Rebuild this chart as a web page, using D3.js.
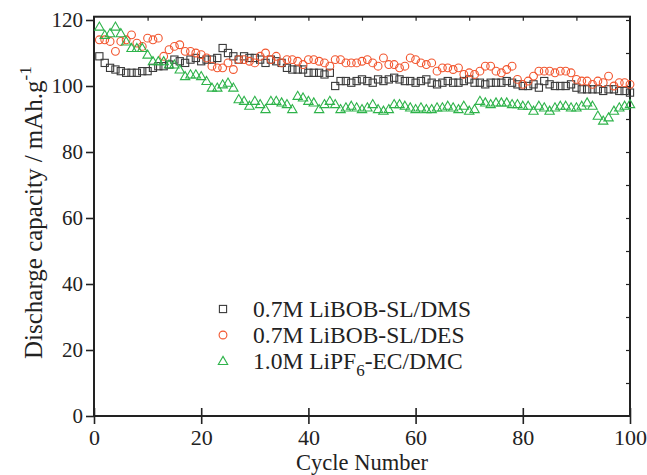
<!DOCTYPE html>
<html>
<head>
<meta charset="utf-8">
<script src="https://cdn.jsdelivr.net/npm/d3@7/dist/d3.min.js"></script>
<style>
  html, body { margin: 0; padding: 0; background: #fff; }
  svg { display: block; }
  text { font-family: "Liberation Serif", "Times New Roman", serif; fill: #222; }
</style>
</head>
<body>
<svg id="chart" width="647" height="475"></svg>
<script>
// ---- data ----
const cycles = d3.range(1, 101);
const dms = [109,107,105.5,105,104.5,104,104,104,104.5,104.5,
  105.5,106,106,106.5,108,107.5,107,108,108.5,107.5,
  108,108,108.5,111.5,110,109,108,109,108.5,108.5,
  108,107,108,107.5,107,105.5,105,105,105,104,
  104,104,103.5,104,100,101.5,101.5,101,101.5,102,
  101.5,101,102,101.5,102,102.5,102,101.5,101.5,101,
  101.5,102,101,100.5,101,101.5,101,101,101.5,102,
  101,101,100.5,101,101,101,101.5,101,100.5,100,
  100,100.5,99.5,101.5,100.5,100,100,100,100.5,99.5,
  99,99,99,99,98.5,99,99,98.5,98.5,98];
const des = [114,114,113.5,110.5,113.5,114,115.5,113,112,114.5,
  114,114.5,109,111,112,112.5,110.5,110.5,110,109.5,
  108.5,106,105.5,105.5,107,105,108,108,107.5,107,
  109,110,108,109,107,108,108,107.5,106.5,108,
  108,107.5,107,106,108,108,107,107,107,107.5,
  108,107,106,108.5,106.5,106.5,105.5,106,108.5,108,
  107,106.5,107,104.5,105.5,105.5,105,105.5,103.5,104,
  103.5,104.5,106,106,104.5,104,105,106,102,100.5,
  101.5,103,104.5,104.5,104.5,104,104.5,104.5,104,102,
  101.5,101.5,100.5,101.5,101,103,100,101,101,100.5];
const ecdmc = [118,115.5,116,118,116,113.5,111.5,111.5,111.5,109.5,
  107.5,107.5,107.5,106.5,106.5,105,103,103.5,103.5,103,
  101.5,99.5,99.5,100.5,101,99.5,96,95.5,94,95.5,
  94.5,93,95.5,95.5,95,94.5,93,97,96.5,95.5,
  95,93,94.5,95.5,94.5,93,93.5,94,93.5,93,
  93.5,94.5,93,92.5,93,94.5,94.5,94,93.5,93,
  93.5,93,93,93.5,93.5,94,93.5,93,94,92.5,
  93,95.5,95,94.5,95,95,95,94.5,94.5,94,
  94,92.5,94,93.5,92.5,93.5,94,94,93.5,93.5,
  94,95,94,91,89.5,90.5,92.5,93.5,94,94.5];
const xTicks = [0,20,40,60,80,100];
const yTicks = [0,20,40,60,80,100,120];
const legendLabels = ["0.7M LiBOB-SL/DMS","0.7M LiBOB-SL/DES","1.0M LiPF"];

// ---- layout ----
const svg = d3.select("#chart");
const L = 94, R = 630, B = 416, T = 16.7;
const x = d3.scaleLinear().domain([0,100]).range([L,R]);
const y = d3.scaleLinear().domain([0,121]).range([B,T]);

svg.append("rect").attr("width",647).attr("height",475).attr("fill","#fff");

// frame
svg.append("rect").attr("x",L).attr("y",T).attr("width",R-L).attr("height",B-T)
  .attr("fill","none").attr("stroke","#222").attr("stroke-width",2);

// bottom axis
const xAxis = svg.append("g").attr("transform",`translate(0,${B})`)
  .call(d3.axisBottom(x).tickValues(xTicks).tickSize(8).tickPadding(5).tickFormat(d3.format("d")));
xAxis.select(".domain").remove();
xAxis.selectAll("line").attr("stroke","#222").attr("stroke-width",1.6).attr("y1",-8);
xAxis.selectAll("text").attr("font-size",22).style("font-family","Liberation Serif, serif").attr("fill","#222");

// left axis
const yAxis = svg.append("g").attr("transform",`translate(${L},0)`)
  .call(d3.axisLeft(y).tickValues(yTicks).tickSize(8).tickPadding(3).tickFormat(d3.format("d")));
yAxis.select(".domain").remove();
yAxis.selectAll("line").attr("stroke","#222").attr("stroke-width",1.6);
yAxis.selectAll("text").attr("font-size",21).style("font-family","Liberation Serif, serif").attr("fill","#222");

// top minor ticks
const topTicks = d3.range(10,100,10);
svg.append("g").attr("transform",`translate(0,${T})`)
  .call(d3.axisTop(x).tickValues(topTicks).tickSize(-4).tickFormat(""))
  .call(g=>g.select(".domain").remove())
  .selectAll("line").attr("stroke","#222").attr("stroke-width",1.2);
// right minor ticks
svg.append("g").attr("transform",`translate(${R},0)`)
  .call(d3.axisRight(y).tickValues(d3.range(10,121,10)).tickSize(-4).tickFormat(""))
  .call(g=>g.select(".domain").remove())
  .selectAll("line").attr("stroke","#222").attr("stroke-width",1.2);

// axis titles
svg.append("text").attr("x",(L+R)/2).attr("y",470).attr("text-anchor","middle")
  .attr("font-size",22.5).text("Cycle Number");
const yl = svg.append("text").attr("transform","translate(42,359) rotate(-90)")
  .attr("text-anchor","start").attr("font-size",25);
yl.append("tspan").text("Discharge capacity / mAh.g");
yl.append("tspan").attr("dy",-11).attr("font-size",17).text("-1");

// markers
const cBlack = "#3a3a3a", cRed = "#f2552e", cGreen = "#2eb34a";
const sq = svg.append("g");
sq.selectAll("rect").data(dms).join("rect")
  .attr("x",(d,i)=>x(cycles[i])-3.6).attr("y",d=>y(d)-3.6)
  .attr("width",7.2).attr("height",7.2).attr("fill","none").attr("stroke",cBlack).attr("stroke-width",1.1);
const ci = svg.append("g");
ci.selectAll("circle").data(des).join("circle")
  .attr("cx",(d,i)=>x(cycles[i])).attr("cy",d=>y(d)).attr("r",3.9)
  .attr("fill","none").attr("stroke",cRed).attr("stroke-width",1.1);
const tri = d3.symbol().type(d3.symbolTriangle).size(38);
const tr = svg.append("g");
tr.selectAll("path").data(ecdmc).join("path")
  .attr("d",tri).attr("transform",(d,i)=>`translate(${x(cycles[i])},${y(d)+0.8})`)
  .attr("fill","none").attr("stroke",cGreen).attr("stroke-width",1.1);

// legend
const lg = svg.append("g");
const rows = [309, 335, 361];
lg.append("rect").attr("x",223-3.6).attr("y",rows[0]-3.6).attr("width",7.2).attr("height",7.2)
  .attr("fill","none").attr("stroke",cBlack).attr("stroke-width",1.1);
lg.append("circle").attr("cx",223).attr("cy",rows[1]).attr("r",3.9)
  .attr("fill","none").attr("stroke",cRed).attr("stroke-width",1.1);
lg.append("path").attr("d",tri).attr("transform",`translate(223,${rows[2]+0.8})`)
  .attr("fill","none").attr("stroke",cGreen).attr("stroke-width",1.1);
lg.append("text").attr("x",253).attr("y",rows[0]+8).attr("font-size",23.5).text(legendLabels[0]);
lg.append("text").attr("x",253).attr("y",rows[1]+8).attr("font-size",23.5).text(legendLabels[1]);
const t3 = lg.append("text").attr("x",253).attr("y",rows[2]+8).attr("font-size",23.5);
t3.append("tspan").text(legendLabels[2]);
t3.append("tspan").attr("dy",7).attr("font-size",17).text("6");
t3.append("tspan").attr("dy",-7).text("-EC/DMC");
</script>
</body>
</html>
